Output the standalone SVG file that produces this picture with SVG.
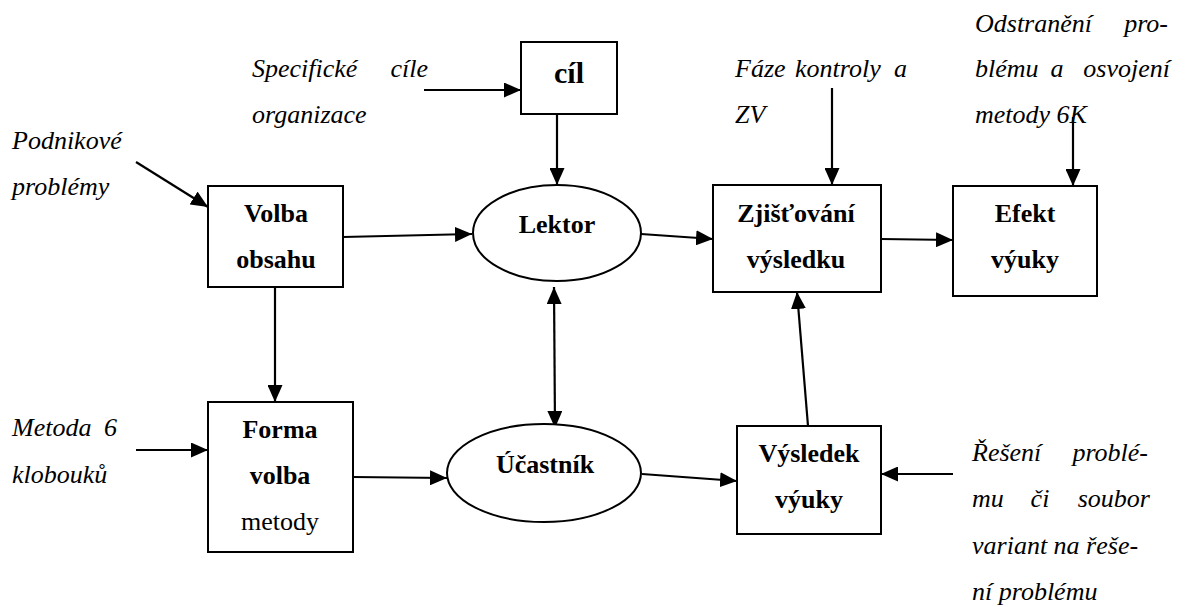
<svg xmlns="http://www.w3.org/2000/svg" width="1189" height="607" viewBox="0 0 1189 607">
  <style>
    .box { fill: #fff; stroke: #000; stroke-width: 2; }
    .edge { fill: none; stroke: #000; stroke-width: 2.2; }
    text { font-family: 'Liberation Serif', 'Times New Roman', serif; font-size: 26px; fill: #000; }
    .b { font-weight: bold; text-anchor: middle; }
    .i { font-style: italic; }
    .r { text-anchor: middle; }
    .end { text-anchor: end; }
  </style>
  <defs>
    <marker id="ah" markerUnits="userSpaceOnUse" markerWidth="17" markerHeight="15" refX="17" refY="7.5" orient="auto-start-reverse">
      <path d="M0,0 L17,7.5 L0,15 Z" fill="#000"/>
    </marker>
  </defs>
  <rect width="1189" height="607" fill="#fff"/>

  <!-- connectors -->
  <g id="connectors">
    <line class="edge" x1="424" y1="90" x2="521" y2="90" marker-end="url(#ah)"/>
    <line class="edge" x1="557" y1="114" x2="557" y2="185" marker-end="url(#ah)"/>
    <line class="edge" x1="136" y1="162" x2="208" y2="207" marker-end="url(#ah)"/>
    <line class="edge" x1="343" y1="237" x2="472" y2="234" marker-end="url(#ah)"/>
    <line class="edge" x1="275" y1="287" x2="275" y2="402" marker-end="url(#ah)"/>
    <line class="edge" x1="136" y1="450" x2="208" y2="450" marker-end="url(#ah)"/>
    <line class="edge" x1="353" y1="477" x2="447" y2="478" marker-end="url(#ah)"/>
    <line class="edge" x1="554" y1="287" x2="555" y2="428" marker-start="url(#ah)" marker-end="url(#ah)"/>
    <line class="edge" x1="641" y1="234" x2="713" y2="239" marker-end="url(#ah)"/>
    <line class="edge" x1="832" y1="88" x2="832" y2="185" marker-end="url(#ah)"/>
    <line class="edge" x1="881" y1="239" x2="953" y2="240" marker-end="url(#ah)"/>
    <line class="edge" x1="1073" y1="117" x2="1073" y2="186" marker-end="url(#ah)"/>
    <line class="edge" x1="642" y1="474" x2="737" y2="481" marker-end="url(#ah)"/>
    <line class="edge" x1="808" y1="426" x2="797" y2="292" marker-end="url(#ah)"/>
    <line class="edge" x1="953" y1="474" x2="881" y2="474" marker-end="url(#ah)"/>
  </g>

  <!-- nodes -->
  <g id="cil">
    <rect class="box" x="521" y="42" width="96" height="72"/>
    <text class="b" x="569" y="83" style="font-size:30px">cíl</text>
  </g>
  <g id="volba-obsahu">
    <rect class="box" x="208" y="186" width="135" height="101"/>
    <text class="b" x="276" y="222">Volba</text>
    <text class="b" x="276" y="268">obsahu</text>
  </g>
  <g id="lektor">
    <ellipse class="box" cx="557" cy="233" rx="84" ry="48"/>
    <text class="b" x="557" y="233">Lektor</text>
  </g>
  <g id="zjistovani">
    <rect class="box" x="713" y="185" width="168" height="107"/>
    <text class="b" x="796" y="222">Zjišťování</text>
    <text class="b" x="796" y="268">výsledku</text>
  </g>
  <g id="efekt">
    <rect class="box" x="953" y="186" width="144" height="110"/>
    <text class="b" x="1025" y="222">Efekt</text>
    <text class="b" x="1025" y="268">výuky</text>
  </g>
  <g id="forma">
    <rect class="box" x="208" y="402" width="145" height="150"/>
    <text class="b" x="280" y="438">Forma</text>
    <text class="b" x="280" y="484">volba</text>
    <text class="r" x="280" y="530">metody</text>
  </g>
  <g id="ucastnik">
    <ellipse class="box" cx="544" cy="473" rx="97" ry="49"/>
    <text class="b" x="545" y="473">Účastník</text>
  </g>
  <g id="vysledek">
    <rect class="box" x="737" y="426" width="144" height="108"/>
    <text class="b" x="809" y="462">Výsledek</text>
    <text class="b" x="809" y="508">výuky</text>
  </g>

  <!-- input notes -->
  <g id="note-specificke">
    <text class="i" x="252" y="77">Specifické</text>
    <text class="i end" x="428" y="77">cíle</text>
    <text class="i" x="252" y="123">organizace</text>
  </g>
  <g id="note-podnikove">
    <text class="i" x="12" y="149">Podnikové</text>
    <text class="i" x="12" y="195">problémy</text>
  </g>
  <g id="note-metoda">
    <text class="i" x="12" y="436">Metoda</text>
    <text class="i end" x="117" y="436">6</text>
    <text class="i" x="12" y="483">klobouků</text>
  </g>
  <g id="note-faze">
    <text class="i" x="735" y="77">Fáze</text>
    <text class="i" x="795" y="77">kontroly</text>
    <text class="i end" x="907" y="77">a</text>
    <text class="i" x="735" y="123">ZV</text>
  </g>
  <g id="note-odstraneni">
    <text class="i" x="975" y="32">Odstranění</text>
    <text class="i end" x="1168" y="32">pro-</text>
    <text class="i" x="975" y="77">blému</text>
    <text class="i r" x="1057" y="77">a</text>
    <text class="i end" x="1170" y="77">osvojení</text>
    <text class="i" x="975" y="123">metody 6K</text>
  </g>
  <g id="note-reseni">
    <text class="i" x="972" y="461">Řešení</text>
    <text class="i end" x="1148" y="461">problé-</text>
    <text class="i" x="972" y="507">mu</text>
    <text class="i r" x="1040" y="507">či</text>
    <text class="i end" x="1150" y="507">soubor</text>
    <text class="i" x="972" y="554">variant na řeše-</text>
    <text class="i" x="972" y="600">ní problému</text>
  </g>
</svg>
